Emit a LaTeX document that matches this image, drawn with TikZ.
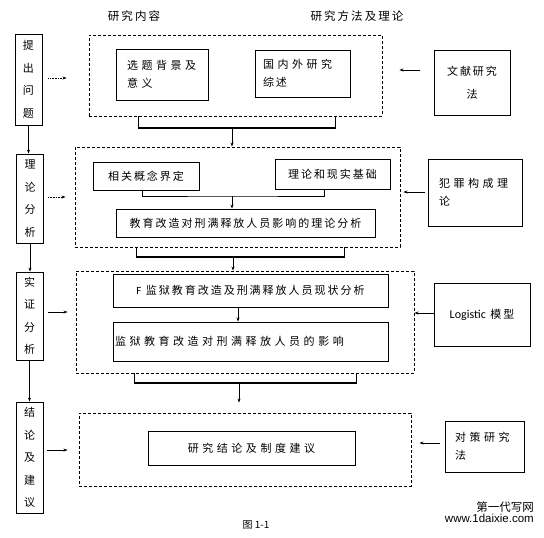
\documentclass[tikz,border=0pt]{standalone}
\usepackage{fontspec}
\setmainfont{Liberation Sans}
\newfontfamily\cjk[LetterSpace=18]{Noto Sans CJK SC}
\newfontfamily\cjkw[LetterSpace=32]{Noto Sans CJK SC}
\newfontfamily\cjkn{Noto Sans CJK SC}
\newfontfamily\latn{Carlito}
\usetikzlibrary{calc,arrows.meta}

\begin{document}
\begin{tikzpicture}[x=1pt, y=-1pt,
  box/.style={draw, line width=0.9pt, inner sep=0pt, font=\cjk\fontsize{11}{18}\selectfont},
  sidebox/.style={draw, line width=0.8pt, inner sep=0pt, minimum width=27pt, align=center, font=\cjkn\fontsize{11}{22.5}\selectfont},
  frame/.style={draw, line width=0.9pt, dash pattern=on 3pt off 2pt, inner sep=0pt},
  arr/.style={-{Stealth[length=4pt,width=3pt]}, line width=0.6pt},
  bar/.style={line width=1.2pt}]
\useasboundingbox (0,0) rectangle (544,538);
\node[font=\cjk\fontsize{11.5}{14}\selectfont] (t1) at (134,16) {研究内容};
\node[font=\cjk\fontsize{11.5}{14}\selectfont] (t2) at (357,16) {研究方法及理论};

\node[sidebox, minimum height=91pt] (q1) at (28.5,79.5) {提\\出\\问\\题};
\node[sidebox, minimum height=89pt] (q2) at (30,198.5) {理\\论\\分\\析};
\node[sidebox, minimum height=88pt] (q3) at (29.5,316) {实\\证\\分\\析};
\node[sidebox, minimum height=111pt] (q4) at (29.5,457.5) {结\\论\\及\\建\\议};

\node[frame, minimum width=293pt, minimum height=81pt] (c1) at (235.5,75.5) {};
\node[frame, minimum width=325pt, minimum height=100pt] (c2) at (237.5,197) {};
\node[frame, minimum width=338pt, minimum height=102pt] (c3) at (245,322) {};
\node[frame, minimum width=332pt, minimum height=73pt] (c4) at (245,449.5) {};

\node[box, minimum width=92pt, minimum height=51pt, text width=70pt, align=left, font=\cjkw\fontsize{11}{18}\selectfont] (b1) at (162,74.5) {选题背景及\\意义};
\node[box, minimum width=95pt, minimum height=47pt, text width=79pt, align=left, font=\cjkw\fontsize{11}{18}\selectfont] (b2) at (302.5,73.5) {国内外研究\\{\cjk 综述}};
\node[box, minimum width=106pt, minimum height=28pt] (b3) at (146,176) {相关概念界定};
\node[box, minimum width=115pt, minimum height=30pt] (b4) at (332.5,174) {理论和现实基础};
\node[box, minimum width=259pt, minimum height=28pt] (b5) at (245.5,223) {教育改造对刑满释放人员影响的理论分析};
\node[box, minimum width=275pt, minimum height=33pt] (b6) at (250.5,290.5) {{\latn F} 监狱教育改造及刑满释放人员现状分析};
\node[box, minimum width=275pt, minimum height=39pt, text width=271pt, align=left, font=\cjkw\fontsize{11}{18}\selectfont] (b7) at (250.5,341.5) {监狱教育改造对刑满释放人员的影响};
\node[box, minimum width=207pt, minimum height=34pt, font=\cjkw\fontsize{11}{18}\selectfont] (b8) at (251.5,448) {研究结论及制度建议};

\node[box, minimum width=76pt, minimum height=65pt, align=center, font=\cjk\fontsize{11}{23}\selectfont] (r1) at (472,82.5) {文献研究\\法};
\node[box, minimum width=94pt, minimum height=67pt, text width=72pt, align=left, font=\cjkw\fontsize{11}{18}\selectfont] (r2) at (475,192.5) {犯罪构成理\\论};
\node[box, minimum width=96pt, minimum height=63pt] (r3) at (482,314.5) {{\latn\fontsize{12}{14}\selectfont Logistic} 模型};
\node[box, minimum width=79pt, minimum height=51pt, text width=59pt, align=left, font=\cjkw\fontsize{11}{18}\selectfont] (r4) at (484.5,446.5) {对策研究\\法};

\draw[arr] (q1.south) -- (q1.south |- q2.north);
\draw[arr] (q2.south) -- (q2.south |- q3.north);
\draw[arr] (q3.south) -- (q3.south |- q4.north);

\draw[arr, densely dotted, shorten <=6pt, shorten >=22pt] ([yshift=1.5]q1.east) -- ([yshift=1.5]q1.east -| c1.west);
\draw[arr, densely dotted, shorten <=4pt, shorten >=9pt] ([yshift=1.5]q2.east) -- ([yshift=1.5]q2.east -| c2.west);
\draw[arr, shorten <=5pt, shorten >=8pt] ([yshift=4]q3.east) -- ([yshift=4]q3.east -| c3.west);
\draw[arr, shorten <=4pt, shorten >=11pt] ([yshift=7.5]q4.east) -- ([yshift=7.5]q4.east -| c4.west);

\draw[arr, shorten <=14pt, shorten >=17pt] ([yshift=12.5]r1.west) -- ([yshift=12.5]r1.west -| c1.east);
\draw[arr, shorten <=3pt, shorten >=3pt] ([yshift=0.5]r2.west) -- ([yshift=0.5]r2.west -| c2.east);
\draw[arr] ([yshift=1.5]r3.west) -- ([yshift=1.5]r3.west -| c3.east);
\draw[arr, shorten <=5pt, shorten >=8pt] ([yshift=3.5]r4.west) -- ([yshift=3.5]r4.west -| c4.east);

\coordinate (j1) at (232,128);
\draw[bar] ($(c1.south west)+(50,0)$) |- (j1) -| ($(c1.south east)+(-47,0)$);
\draw[arr] (j1) -- (j1 |- c2.north);
\coordinate (j2) at (233,257);
\draw[bar] ($(c2.south west)+(62,0)$) |- (j2) -| ($(c2.south east)+(-56,0)$);
\draw[arr] (j2) -- (j2 |- c3.north);
\coordinate (j3) at (239,383);
\draw[bar] ($(c3.south west)+(59,0)$) |- (j3) -| ($(c3.south east)+(-58,0)$);
\draw[arr, shorten >=10pt] (j3) -- (j3 |- c4.north);

\coordinate (j4) at (232,196);
\draw[line width=0.9pt] ($(b3.south west)+(50,0)$) |- (j4) -| ($(b4.south west)+(50,0)$);
\draw[arr] (j4) -- (j4 |- b5.north);
\draw[arr] ([xshift=-12.5]b6.south) -- ([xshift=-12.5]b7.north);

\node[font=\cjkn\fontsize{10}{12}\selectfont] (cap) at (256,525) {图 1-1};
\node[anchor=east, align=right, inner sep=0pt, font=\fontsize{11.5}{11}\selectfont] (wm) at (534,512) {{\cjkn 第一代写网}\\www.1daixie.com};
\end{tikzpicture}
\end{document}
